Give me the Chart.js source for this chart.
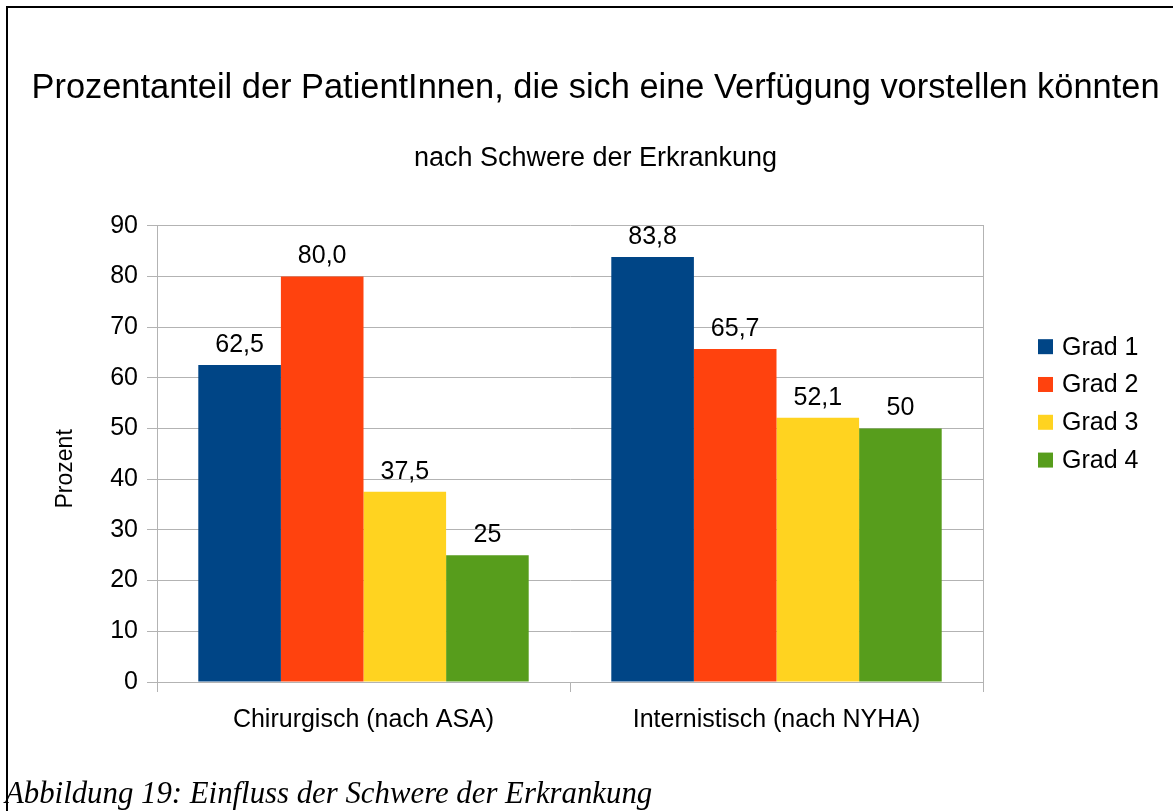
<!DOCTYPE html>
<html>
<head>
<meta charset="utf-8">
<script src="https://cdn.jsdelivr.net/npm/chart.js@4/dist/chart.umd.min.js"></script>
<style>
    html, body { margin: 0; padding: 0; background: #fff; overflow: hidden; }
    #wrap { position: relative; width: 1173px; height: 811px; }
    #frame {
        position: absolute; left: 6px; top: 6px; width: 1300px; height: 900px;
        border-left: 2px solid #000; border-top: 2px solid #000;
    }
    #chart { position: absolute; left: 0; top: 0; }
    #caption {
        position: absolute; left: 5px; top: 778px;
        font-family: 'Liberation Serif', 'Times New Roman', serif;
        font-style: italic; font-size: 30.8px; line-height: 31px; color: #000; white-space: nowrap;
    }
</style>
</head>
<body>
<div id="wrap">
    <div id="frame"></div>
    <canvas id="chart" width="1173" height="811"></canvas>
    <div id="caption">Abbildung 19: Einfluss der Schwere der Erkrankung</div>
</div>
<script>
// Daten
const categories = ['Chirurgisch (nach ASA)', 'Internistisch (nach NYHA)'];
const seriesNames = ['Grad 1', 'Grad 2', 'Grad 3', 'Grad 4'];
const grad1 = [62.5, 83.8];
const grad2 = [80.0, 65.7];
const grad3 = [37.5, 52.1];
const grad4 = [25, 50];
// Beschriftungen wie im Original (uneinheitliche Nachkommastellen)
const grad1Labels = ['62,5', '83,8'];
const grad2Labels = ['80,0', '65,7'];
const grad3Labels = ['37,5', '52,1'];
const grad4Labels = ['25', '50'];
const yTicks = [0, 10, 20, 30, 40, 50, 60, 70, 80, 90];

const colors = ['#004586', '#ff420e', '#ffd320', '#579d1c'];
const allValues = [grad1, grad2, grad3, grad4];
const allLabels = [grad1Labels, grad2Labels, grad3Labels, grad4Labels];

const FONT = "'Liberation Sans', Arial, sans-serif";
const GRID = '#b3b3b3';
const PAD_LEFT = 18;

// Wertebeschriftungen über den Balken
const valueLabelPlugin = {
    id: 'valueLabels',
    afterDatasetsDraw(chart) {
        const ctx = chart.ctx;
        ctx.save();
        ctx.font = '25px ' + FONT;
        ctx.fillStyle = '#000';
        ctx.textAlign = 'center';
        ctx.textBaseline = 'alphabetic';
        chart.data.datasets.forEach((ds, i) => {
            const meta = chart.getDatasetMeta(i);
            meta.data.forEach((bar, j) => {
                ctx.fillText(allLabels[i][j], bar.x, bar.y - 13);
            });
        });
        ctx.restore();
    }
};

// Legende rechts neben dem Diagramm
const sideLegendPlugin = {
    id: 'sideLegend',
    afterDraw(chart) {
        const ctx = chart.ctx;
        const area = chart.chartArea;
        const x0 = area.right + 55;
        ctx.save();
        ctx.font = '25px ' + FONT;
        ctx.textBaseline = 'middle';
        ctx.textAlign = 'left';
        chart.data.datasets.forEach((ds, i) => {
            const cy = area.top + 121 + i * 37.8;
            ctx.fillStyle = ds.backgroundColor;
            ctx.fillRect(x0, cy - 7.5, 15, 15);
            ctx.fillStyle = '#000';
            ctx.fillText(ds.label, x0 + 24, cy + 1);
        });
        ctx.restore();
    }
};

// Achsentitel etwas unterhalb der Mitte, wie im Original
const yTitlePlugin = {
    id: 'yTitle',
    afterDraw(chart) {
        const ctx = chart.ctx;
        const s = chart.scales.y;
        ctx.save();
        ctx.font = '23px ' + FONT;
        ctx.fillStyle = '#000';
        ctx.textAlign = 'center';
        ctx.textBaseline = 'middle';
        ctx.translate(s.right - 91, (s.top + s.bottom) / 2 + 15);
        ctx.rotate(-Math.PI / 2);
        ctx.fillText('Prozent', 0, 0);
        ctx.restore();
    }
};

new Chart(document.getElementById('chart'), {
    type: 'bar',
    data: {
        labels: categories,
        datasets: seriesNames.map((name, i) => ({
            label: name,
            data: allValues[i],
            backgroundColor: colors[i],
            borderWidth: 0,
            categoryPercentage: 0.8,
            barPercentage: 1.0
        }))
    },
    options: {
        responsive: false,
        animation: false,
        events: [],
        layout: { padding: { left: PAD_LEFT, right: 0, top: 0, bottom: 49 } },
        plugins: {
            legend: { display: false },
            tooltip: { enabled: false },
            title: {
                display: true,
                text: 'Prozentanteil der PatientInnen, die sich eine Verfügung vorstellen könnten',
                color: '#000',
                font: { family: FONT, size: 34.4, weight: 'normal' },
                padding: { top: 68, bottom: 0 }
            },
            subtitle: {
                display: true,
                text: 'nach Schwere der Erkrankung',
                color: '#000',
                font: { family: FONT, size: 27, weight: 'normal' },
                padding: { top: 33, bottom: 51 }
            }
        },
        scales: {
            x: {
                grid: { display: true, drawOnChartArea: false, drawTicks: true, tickLength: 10, color: GRID, offset: true },
                border: { display: true, color: GRID },
                ticks: { color: '#000', font: { family: FONT, size: 25 }, padding: 13, maxRotation: 0 },
                afterFit(s) { s.height = 80; }
            },
            y: {
                min: 0,
                max: 90,
                afterBuildTicks(s) { s.ticks = yTicks.map(v => ({ value: v })); },
                grid: { color: GRID, tickLength: 10 },
                border: { display: true, color: GRID },
                ticks: { color: '#000', font: { family: FONT, size: 25 }, padding: 9 },
                afterFit(s) { s.width = 157 - PAD_LEFT; }
            },
            yRight: {
                position: 'right',
                display: true,
                grid: { display: false },
                border: { display: true, color: GRID },
                ticks: { display: false },
                afterFit(s) { s.width = 190; }
            }
        }
    },
    plugins: [valueLabelPlugin, sideLegendPlugin, yTitlePlugin]
});
</script>
</body>
</html>
